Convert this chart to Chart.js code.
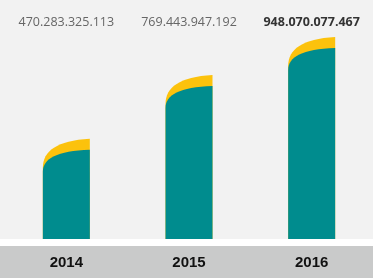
<!DOCTYPE html>
<html lang="de">
<head>
    <meta charset="UTF-8">
    <title>Werte 2014-2016</title>
    <style>
        html, body {
            margin: 0;
            padding: 0;
            background: #ffffff;
        }
        .chart-container {
            width: 373px;
            height: 280px;
        }
    </style>
</head>
<body>
    <div class="chart-container">
        <canvas id="wertChart"></canvas>
    </div>

    <script src="https://cdn.jsdelivr.net/npm/chart.js"></script>
    <script>
        const jahre = ['2014', '2015', '2016'];
        const werte = [470.283325113, 769.443947192, 948.070077467];
        const wertLabels = ['470.283.325.113', '769.443.947.192', '948.070.077.467'];

        const TEAL = '#008c8e';
        const GELB = '#fcc20c';

        // Hintergrund: hellgrauer Plotbereich, weisser Streifen, graues Achsenband
        const hintergrund = {
            id: 'hintergrund',
            beforeDraw(chart) {
                const { ctx, chartArea, width, height } = chart;
                ctx.save();
                ctx.fillStyle = '#ffffff';
                ctx.fillRect(0, 0, width, height);
                ctx.fillStyle = '#f2f2f2';
                ctx.fillRect(0, 0, width, chartArea.bottom);
                ctx.fillStyle = '#c9caca';
                ctx.fillRect(0, chartArea.bottom + 7, width, height - chartArea.bottom - 9);
                ctx.restore();
            }
        };

        // Balken mit geschwungener Oberkante und gelber Kappe
        const kurvenBalken = {
            id: 'kurvenBalken',
            beforeDatasetDraw(chart, args) {
                const ctx = chart.ctx;
                const meta = args.meta;
                ctx.save();
                meta.data.forEach((bar) => {
                    const left = bar.x - bar.width / 2;
                    const right = bar.x + bar.width / 2;
                    const top = bar.y;
                    const base = bar.base;
                    const w = bar.width;

                    ctx.fillStyle = GELB;
                    ctx.beginPath();
                    ctx.moveTo(left, base);
                    ctx.lineTo(left, top + 29);
                    ctx.bezierCurveTo(left, top + 12, left + w * 0.3, top + 2, right, top);
                    ctx.lineTo(right, base);
                    ctx.closePath();
                    ctx.fill();

                    ctx.fillStyle = TEAL;
                    ctx.beginPath();
                    ctx.moveTo(left, base);
                    ctx.lineTo(left, top + 33);
                    ctx.bezierCurveTo(left, top + 20, left + w * 0.3, top + 12, right, top + 11);
                    ctx.lineTo(right, base);
                    ctx.closePath();
                    ctx.fill();
                });
                ctx.restore();
                return false;
            }
        };

        // Werte oben in einer Zeile
        const wertZeile = {
            id: 'wertZeile',
            afterDatasetsDraw(chart) {
                const ctx = chart.ctx;
                const meta = chart.getDatasetMeta(0);
                ctx.save();
                ctx.textAlign = 'center';
                ctx.textBaseline = 'middle';
                meta.data.forEach((bar, i) => {
                    const letzter = i === meta.data.length - 1;
                    ctx.font = (letzter ? 'bold ' : '') + '12.5px "Open Sans", sans-serif';
                    ctx.fillStyle = letzter ? '#333333' : '#666666';
                    ctx.fillText(wertLabels[i], bar.x, 22.5);
                });
                ctx.restore();
            }
        };

        new Chart(document.getElementById('wertChart'), {
            type: 'bar',
            data: {
                labels: jahre,
                datasets: [{
                    data: werte,
                    backgroundColor: TEAL,
                    barThickness: 47
                }]
            },
            options: {
                responsive: true,
                maintainAspectRatio: false,
                animation: false,
                layout: {
                    padding: { top: 26, left: 5, right: 0, bottom: 0 }
                },
                plugins: {
                    legend: { display: false },
                    tooltip: { enabled: false }
                },
                scales: {
                    y: {
                        display: false,
                        min: 0,
                        max: 1000
                    },
                    x: {
                        grid: { display: false, drawTicks: false },
                        border: { display: false },
                        afterFit(scale) {
                            scale.height = 41;
                        },
                        ticks: {
                            padding: 15,
                            color: '#111111',
                            font: { family: '"Liberation Sans", Arial, sans-serif', size: 15, weight: 'bold' }
                        }
                    }
                }
            },
            plugins: [hintergrund, kurvenBalken, wertZeile]
        });
    </script>
</body>
</html>
